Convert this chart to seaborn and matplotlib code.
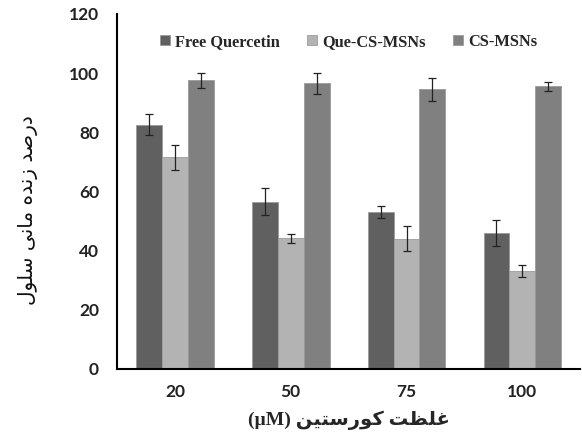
import numpy as np
import pandas as pd
import matplotlib
matplotlib.use("Agg")
import matplotlib.pyplot as plt
from matplotlib.ticker import MultipleLocator, FixedLocator
import seaborn as sns

# Data
concentrations = ['20', '50', '75', '100']
groups = ['Free Quercetin', 'Que-CS-MSNs', 'CS-MSNs']
free_quercetin = [82.5, 56.5, 53.0, 46.0]
que_cs_msns = [71.5, 44.2, 44.0, 33.0]
cs_msns = [97.5, 96.5, 94.5, 95.5]
free_quercetin_err = [3.6, 4.5, 2.0, 4.3]
que_cs_msns_err = [4.2, 1.5, 4.3, 2.0]
cs_msns_err = [2.5, 3.5, 3.9, 1.6]
colors = ['#606060', '#b3b3b3', '#808080']

ylabel_fa = "درصد زنده مانی سلول"
xlabel_fa = "غلظت کورستین"

# Simple Persian shaping (matplotlib has no bidi / joining support)
forms = {
    # isolated, final, initial, medial
    'ا': ('\uFE8D', '\uFE8E', None, None),
    'د': ('\uFEA9', '\uFEAA', None, None),
    'ر': ('\uFEAD', '\uFEAE', None, None),
    'ز': ('\uFEAF', '\uFEB0', None, None),
    'و': ('\uFEED', '\uFEEE', None, None),
    'ص': ('\uFEB9', '\uFEBA', '\uFEBB', '\uFEBC'),
    'ن': ('\uFEE5', '\uFEE6', '\uFEE7', '\uFEE8'),
    'ه': ('\uFEE9', '\uFEEA', '\uFEEB', '\uFEEC'),
    'م': ('\uFEE1', '\uFEE2', '\uFEE3', '\uFEE4'),
    'ی': ('\uFBFC', '\uFBFD', '\uFBFE', '\uFBFF'),
    'س': ('\uFEB1', '\uFEB2', '\uFEB3', '\uFEB4'),
    'ل': ('\uFEDD', '\uFEDE', '\uFEDF', '\uFEE0'),
    'غ': ('\uFECD', '\uFECE', '\uFECF', '\uFED0'),
    'ظ': ('\uFEC5', '\uFEC6', '\uFEC7', '\uFEC8'),
    'ت': ('\uFE95', '\uFE96', '\uFE97', '\uFE98'),
    'ک': ('\uFB8E', '\uFB8F', '\uFB90', '\uFB91'),
}


def shape(text):
    out = []
    for i, ch in enumerate(text):
        if ch not in forms:
            out.append(ch)
            continue
        prev = text[i - 1] if i > 0 else ''
        nxt = text[i + 1] if i + 1 < len(text) else ''
        join_prev = prev in forms and forms[prev][2] is not None
        join_next = nxt in forms and forms[ch][2] is not None
        iso, fin, ini, med = forms[ch]
        if join_prev and join_next:
            out.append(med)
        elif join_prev:
            out.append(fin)
        elif join_next:
            out.append(ini)
        else:
            out.append(iso)
    return ''.join(out)[::-1]


df = pd.DataFrame({
    'conc': concentrations * 3,
    'group': np.repeat(groups, len(concentrations)),
    'value': free_quercetin + que_cs_msns + cs_msns,
})
errs = [free_quercetin_err, que_cs_msns_err, cs_msns_err]

sns.set_style("white")
fig, ax = plt.subplots(figsize=(5.82, 4.32), dpi=100)
fig.subplots_adjust(left=0.201, right=0.997, top=0.968, bottom=0.146)

sns.barplot(data=df, x='conc', y='value', hue='group', order=concentrations,
            hue_order=groups, palette=colors, width=0.67, errorbar=None,
            edgecolor='#9a9a9a', linewidth=0.6, ax=ax)

# error bars on top of each bar
for cont, err in zip(ax.containers, errs):
    for bar, e in zip(cont, err):
        ax.errorbar(bar.get_x() + bar.get_width() / 2, bar.get_height(), yerr=e,
                    fmt='none', ecolor='#222222', elinewidth=0.9, capsize=2.6,
                    capthick=0.9)

ax.set_xlim(-0.5, 3.5)
ax.set_ylim(0, 120)
ax.yaxis.set_major_locator(MultipleLocator(20))
ax.yaxis.set_minor_locator(MultipleLocator(5))
ax.xaxis.set_minor_locator(FixedLocator(np.arange(-0.5, 4, 1)))
ax.tick_params(axis='both', which='both', direction='out', color='black', width=1.3)
ax.tick_params(axis='both', which='major', length=5)
ax.tick_params(axis='both', which='minor', length=4)
ax.tick_params(axis='x', which='minor', length=5)
ax.tick_params(axis='y', which='major', pad=8)
ax.tick_params(axis='x', which='major', pad=6)
for lab in ax.get_xticklabels() + ax.get_yticklabels():
    lab.set_fontfamily('Lato')
    lab.set_fontweight('bold')
    lab.set_fontsize(12.5)
    lab.set_color('#222222')

sns.despine(ax=ax)
for sp in ['left', 'bottom']:
    ax.spines[sp].set_color('black')
    ax.spines[sp].set_linewidth(1.5)

ax.set_ylabel(shape(ylabel_fa), family=['DejaVu Sans'], fontsize=14.5, color='#111111')
ax.yaxis.set_label_coords(-0.17, 0.448)
ax.set_xlabel('(µM) ' + shape(xlabel_fa), family=['Liberation Serif', 'DejaVu Sans'],
              fontweight='bold', fontsize=14)
ax.xaxis.set_label_coords(0.5, -0.118)

leg = ax.legend(loc='upper center', bbox_to_anchor=(0.5, 0.985), ncol=3, frameon=False,
                handlelength=0.6, handleheight=0.6, handletextpad=0.3, columnspacing=1.7,
                prop={'family': 'Liberation Serif', 'weight': 'bold', 'size': 11.8})

fig.savefig('out.png', dpi=100)
